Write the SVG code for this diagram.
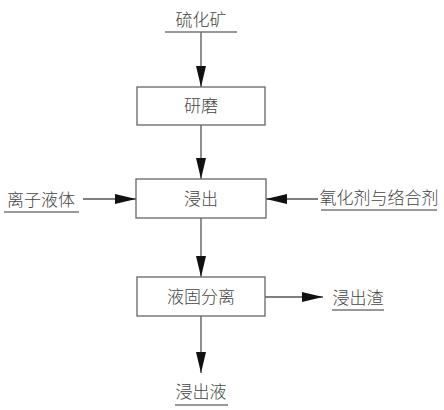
<svg xmlns="http://www.w3.org/2000/svg" width="444" height="410" viewBox="0 0 444 410">
<defs>
<style>
.box{fill:#fff;stroke:#666;stroke-width:1.3}
.ln{stroke:#555;stroke-width:1.3;fill:none}
.ul{stroke:#777;stroke-width:1.3}
.t{font-family:"Noto Sans CJK SC","Noto Sans",sans-serif;font-size:17px;fill:#444;font-weight:300}
</style>
<marker id="ah" markerUnits="userSpaceOnUse" markerWidth="22" markerHeight="12" refX="21" refY="5" orient="auto" viewBox="0 0 22 10">
<path d="M0,0 L21,5 L0,10 Z" fill="#111"/>
</marker>
</defs>
<rect width="444" height="410" fill="#fff"/>
<g id="connectors">
<line class="ln" x1="201" y1="32" x2="201" y2="87" marker-end="url(#ah)"/>
<line class="ln" x1="201" y1="125" x2="201" y2="179" marker-end="url(#ah)"/>
<line class="ln" x1="83" y1="199" x2="136" y2="199" marker-end="url(#ah)"/>
<line class="ln" x1="318" y1="199" x2="266" y2="199" marker-end="url(#ah)"/>
<line class="ln" x1="201" y1="218" x2="201" y2="277" marker-end="url(#ah)"/>
<line class="ln" x1="265" y1="297" x2="323" y2="297" marker-end="url(#ah)"/>
<line class="ln" x1="201" y1="316" x2="201" y2="373" marker-end="url(#ah)"/>
</g>
<g id="n-ore">
<text class="t" x="201" y="26" text-anchor="middle">硫化矿</text>
<line class="ul" x1="165" y1="32" x2="237" y2="32"/>
</g>
<g id="n-grind">
<rect class="box" x="137" y="87" width="128" height="38"/>
<text class="t" x="201" y="112" text-anchor="middle">研磨</text>
</g>
<g id="n-leach">
<rect class="box" x="136" y="179" width="130" height="39"/>
<text class="t" x="201" y="205" text-anchor="middle">浸出</text>
</g>
<g id="n-ionic">
<text class="t" x="41" y="206" text-anchor="middle">离子液体</text>
<line class="ul" x1="4" y1="212" x2="79" y2="212"/>
</g>
<g id="n-oxid">
<text class="t" x="379" y="204" text-anchor="middle">氧化剂与络合剂</text>
<line class="ul" x1="321" y1="210" x2="437" y2="210"/>
</g>
<g id="n-sep">
<rect class="box" x="137" y="277" width="128" height="39"/>
<text class="t" x="201" y="303" text-anchor="middle">液固分离</text>
</g>
<g id="n-residue">
<text class="t" x="358" y="304" text-anchor="middle">浸出渣</text>
<line class="ul" x1="332" y1="310" x2="384" y2="310"/>
</g>
<g id="n-liquor">
<text class="t" x="201" y="398" text-anchor="middle">浸出液</text>
<line class="ul" x1="175" y1="405" x2="228" y2="405"/>
</g>
</svg>
